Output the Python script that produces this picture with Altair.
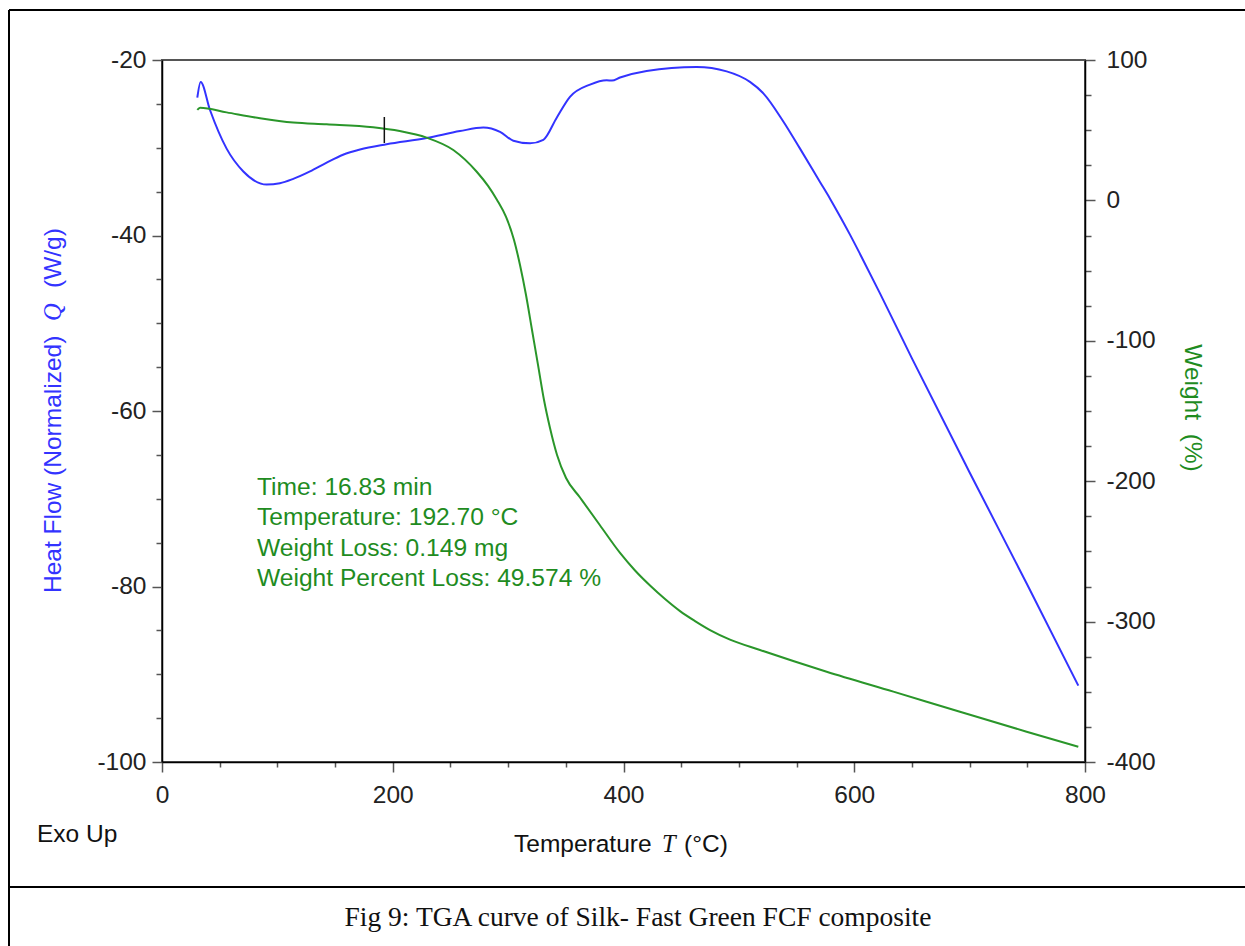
import altair as alt
import pandas as pd

# ---- data ----
temp_hf = [30.6, 33.5, 41.6, 56, 70.5, 90.7, 102.2, 113.8, 128.3, 142.7, 156.9, 171.6, 194.7,
           229.4, 258.3, 278.5, 293, 304.5, 319, 330.5, 342, 353.6, 371, 385.4, 390, 397, 420,
           463.4, 489.4, 509.6, 521.2, 538.5, 553, 570.3, 579.0, 587.6, 596.3, 605, 622.3,
           650, 700, 750, 794.2]
heat_flow = [-24.3, -22.5, -25.7, -30.1, -32.7, -34.2, -34.05, -33.55, -32.7, -31.7, -30.8, -30.2, -29.6,
             -28.9, -28.1, -27.7, -28.2, -29.2, -29.5, -29.1, -26.6, -24.2, -22.8, -22.3, -22.35, -22.0, -21.25,
             -20.8, -21.3, -22.5, -23.8, -27.0, -30.1, -33.9, -35.8, -37.8, -39.9, -42.1, -46.6,
             -54.0, -67.0, -79.8, -91.3]

temp_w = [30.6, 33, 56, 85, 113.8, 142.7, 183, 206, 229.4, 252.5, 272.8, 282.6, 290.4, 298.2,
          305.1, 310.3, 315.5, 320.7, 325.9, 331.1, 336.3, 342.4, 350.2, 362.3, 379.6, 397.0,
          410.0, 423.0, 436.0, 449.0, 462.0, 475.0, 492.3, 518.3, 576.1, 633.9, 691.6, 749.4, 794.2]
weight = [64.4, 66, 62.7, 58.5, 55.4, 54.2, 52.1, 49.4, 44.7, 35.9, 20.4, 10.3, 0.3, -11.8,
          -28.2, -46.0, -67.4, -92.3, -117.2, -142.2, -162.1, -181.3, -197.7, -211.6, -231.4, -251.1,
          -263.6, -274.3, -283.9, -292.5, -299.6, -306.0, -312.8, -320.2, -335.7, -349.9, -364.2, -378.4, -389.1]

cursor_temp = [192.7, 192.7]
cursor_weight = [59.4, 40.9]

annotation_lines = ["Time: 16.83 min", "Temperature: 192.70 °C",
                    "Weight Loss: 0.149 mg", "Weight Percent Loss: 49.574 %"]

x_ticks = list(range(0, 801, 50))
hf_ticks = list(range(-100, -19, 5))
w_ticks = list(range(-400, 101, 25))

BLUE = "#3333ff"
GREEN = "#2a962a"
TEXT_GREEN = "#1f8c1f"
FONT = "Liberation Sans"
FS = 24.5

hf_df = pd.DataFrame({"T": temp_hf, "HF": heat_flow})
w_df = pd.DataFrame({"T": temp_w, "W": weight})
cur_df = pd.DataFrame({"T": cursor_temp, "W": cursor_weight})
dummy = pd.DataFrame({"a": [0]})


def x_enc():
    return alt.X(
        "T:Q",
        scale=alt.Scale(domain=[0, 800], nice=False, zero=False),
        axis=alt.Axis(
            values=x_ticks, title=None, grid=False,
            labelExpr="datum.value % 200 === 0 ? '' + datum.value : ''",
            tickSize={"condition": {"test": "datum.value % 200 === 0", "value": 10}, "value": 5},
            labelFlush=False, labelOverlap=False, labelPadding=11,
            domainColor="black", domainWidth=1.5, tickColor="#555", tickWidth=1.5,
        ),
    )


blue = alt.Chart(hf_df).mark_line(color=BLUE, strokeWidth=2, interpolate="monotone").encode(
    x=x_enc(),
    y=alt.Y(
        "HF:Q",
        scale=alt.Scale(domain=[-100, -20], nice=False, zero=False),
        axis=alt.Axis(
            orient="left", values=hf_ticks, title=None, grid=False,
            labelExpr="datum.value % 20 === 0 ? '' + datum.value : ''",
            tickSize={"condition": {"test": "datum.value % 20 === 0", "value": 10}, "value": 6},
            labelOverlap=False, labelFlush=False, labelPadding=6,
            domainColor="black", domainWidth=1.5, tickColor="#555", tickWidth=1.5,
        ),
    ),
)

green = alt.Chart(w_df).mark_line(color=GREEN, strokeWidth=2, interpolate="monotone").encode(
    x=x_enc(),
    y=alt.Y(
        "W:Q",
        scale=alt.Scale(domain=[-400, 100], nice=False, zero=False),
        axis=alt.Axis(
            orient="right", values=w_ticks, title=None, grid=False,
            labelExpr="datum.value % 100 === 0 ? '' + datum.value : ''",
            tickSize={"condition": {"test": "datum.value % 100 === 0", "value": 10}, "value": 6},
            labelOverlap=False, labelFlush=False, labelPadding=11,
            domainColor="black", domainWidth=1.5, tickColor="#555", tickWidth=1.5,
        ),
    ),
)

cursor = alt.Chart(cur_df).mark_line(color="#111", strokeWidth=1.5).encode(
    x=x_enc(),
    y=alt.Y("W:Q", scale=alt.Scale(domain=[-400, 100], nice=False, zero=False), axis=None),
)


def txt(text, x, y, size=FS, color="#111", font=FONT, align="left", angle=0, style="normal"):
    return alt.Chart(dummy).mark_text(
        text=text, font=font, fontSize=size, color=color, align=align,
        baseline="alphabetic", angle=angle, fontStyle=style,
    ).encode(x=alt.value(x), y=alt.value(y))


annotation = alt.Chart(dummy).mark_text(
    text=annotation_lines, font=FONT, fontSize=24.6, color=TEXT_GREEN, align="left",
    baseline="alphabetic", lineHeight=30.3,
).encode(x=alt.value(95), y=alt.value(435))

texts = [
    annotation,
    txt("Exo Up", -125, 782),
    txt("Temperature", 352, 792),
    txt("T", 500, 792, font="Liberation Serif", style="italic"),
    txt("(°C)", 522, 792),
    txt("Heat Flow (Normalized)", -101, 533, color=BLUE, angle=270),
    txt("Q", -101, 261, color=BLUE, angle=270, font="Liberation Serif", style="italic"),
    txt("(W/g)", -101, 228, color=BLUE, angle=270),
    txt("Weight\u00a0\u00a0(%)", 1023, 348, color=TEXT_GREEN, angle=90, align="center"),
    txt("Fig 9: TGA curve of Silk- Fast Green FCF composite", 476, 866,
        size=27.5, font="Liberation Serif", align="center"),
]

frame = [
    alt.Chart(dummy).mark_rule(color="black", strokeWidth=2).encode(
        x=alt.value(-153), y=alt.value(-50), y2=alt.value(890)),
    alt.Chart(dummy).mark_rule(color="black", strokeWidth=2).encode(
        x=alt.value(-153), x2=alt.value(1090), y=alt.value(-50)),
    alt.Chart(dummy).mark_rule(color="black", strokeWidth=2).encode(
        x=alt.value(-153), x2=alt.value(1090), y=alt.value(827)),
]

chart = alt.layer(blue, green, cursor, *texts, *frame).resolve_scale(
    y="independent"
).properties(
    width=923, height=702,
    padding={"left": 162, "top": 60, "right": 160, "bottom": 184},
    autosize="none", background="white",
).configure_view(
    stroke="#555", strokeWidth=2
).configure_axis(
    labelFont=FONT, labelFontSize=FS, labelColor="#222",
)

chart.save("out.html", embed_options={"renderer": "svg", "actions": False})
